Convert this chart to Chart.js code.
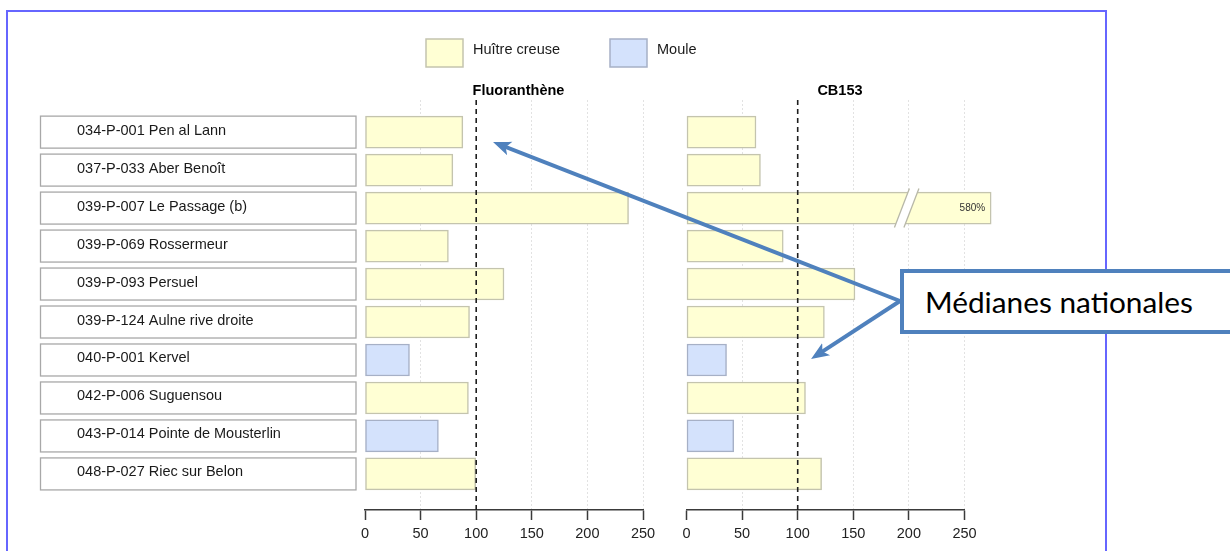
<!DOCTYPE html>
<html lang="fr">
<head>
<meta charset="utf-8">
<script src="https://cdn.jsdelivr.net/npm/chart.js"></script>
<style>
  html, body { margin: 0; padding: 0; background: #fff; }
  #wrap { position: relative; width: 1230px; height: 551px; overflow: hidden; }
  #frame { position: absolute; left: 6px; top: 10px; width: 1101px; height: 620px; border: 2px solid #6666ff; box-sizing: border-box; }
  canvas { position: absolute; left: 0; top: 0; }
  #notes { position: absolute; left: 0; top: 0; }
  #callout { position: absolute; left: 900px; top: 269px; width: 380px; height: 65px; box-sizing: border-box;
             border: 4px solid #4f81bd; background: #fff; padding-left: 21px; line-height: 57px;
             font-family: Lato, "Open Sans", sans-serif; font-size: 28px; color: #000; white-space: nowrap; }
</style>
</head>
<body>
<div id="wrap">
  <div id="frame"></div>
  <canvas id="fluo" width="1230" height="551"></canvas>
  <canvas id="pcb" width="1230" height="551"></canvas>
  <svg id="notes" width="1230" height="551">
    <defs>
      <marker id="head" viewBox="0 0 10 10" refX="5.6" refY="5" markerWidth="4.5" markerHeight="4.5" orient="auto" markerUnits="strokeWidth">
        <path d="M0,1 L10,5 L0,9 L2.5,5 z" fill="#4f81bd"/>
      </marker>
    </defs>
    <line x1="900" y1="301" x2="500.4" y2="144.9" stroke="#4f81bd" stroke-width="4" marker-end="url(#head)"/>
    <line x1="900" y1="301" x2="817.7" y2="354.6" stroke="#4f81bd" stroke-width="4" marker-end="url(#head)"/>
  </svg>
  <div id="callout"><span>Médianes nationales</span></div>
</div>

<script>
// sites (top to bottom) and the species sampled at each one
const sites = [
    '034-P-001 Pen al Lann',
    '037-P-033 Aber Benoît',
    '039-P-007 Le Passage (b)',
    '039-P-069 Rossermeur',
    '039-P-093 Persuel',
    '039-P-124 Aulne rive droite',
    '040-P-001 Kervel',
    '042-P-006 Suguensou',
    '043-P-014 Pointe de Mousterlin',
    '048-P-027 Riec sur Belon'
]
const species = ['Huître creuse', 'Huître creuse', 'Huître creuse', 'Huître creuse', 'Huître creuse',
                 'Huître creuse', 'Moule', 'Huître creuse', 'Moule', 'Huître creuse']
const speciesNames = ['Huître creuse', 'Moule']

// % of the national median
const fluoranthene = [88, 79, 237, 75, 125, 94, 40, 93, 66, 99.5]
const cb153 = [62.5, 66.5, 580, 87, 151.5, 124, 36, 107, 42.5, 121.5]

const xTicks = [0, 50, 100, 150, 200, 250]
const mediane = 100

const fills = { 'Huître creuse': '#ffffd4', 'Moule': '#d4e2fc' }
const edges = { 'Huître creuse': '#c4c4ae', 'Moule': '#a6b0c6' }
const FONT = '"Liberation Sans", Arial, sans-serif'
const barCap = 274    // longer bars are cut off here
const breakAt = 198   // where the cut mark sits

const panelDecor = {
    id: 'panelDecor',
    afterDraw(chart, args, opts) {
        const ctx = chart.ctx
        const area = chart.chartArea
        const xs = chart.scales.x
        const ys = chart.scales.y
        ctx.save()

        // national median
        const xm = xs.getPixelForValue(mediane)
        ctx.strokeStyle = '#1e1e1e'
        ctx.lineWidth = 1.6
        ctx.setLineDash([5, 4])
        ctx.beginPath()
        ctx.moveTo(xm, area.top)
        ctx.lineTo(xm, area.bottom)
        ctx.stroke()
        ctx.setLineDash([])

        // panel title
        ctx.fillStyle = '#000'
        ctx.font = 'bold 14.5px ' + FONT
        ctx.textAlign = 'center'
        ctx.textBaseline = 'middle'
        ctx.fillText(opts.title, xs.getPixelForValue(138), 91)

        // cut bars
        const meta = chart.getDatasetMeta(0)
        opts.values.forEach(function(v, i) {
            if (v <= barCap) return
            const bar = meta.data[i]
            const cx = xs.getPixelForValue(breakAt)
            const top = bar.y - bar.height / 2 - 3.5
            const bot = bar.y + bar.height / 2 + 3.5
            ctx.fillStyle = '#fff'
            ctx.beginPath()
            ctx.moveTo(cx - 12.25, bot)
            ctx.lineTo(cx + 2.75, top)
            ctx.lineTo(cx + 12.25, top)
            ctx.lineTo(cx - 2.75, bot)
            ctx.closePath()
            ctx.fill()
            ctx.strokeStyle = '#b8b8a8'
            ctx.lineWidth = 1.3
            ctx.beginPath()
            ctx.moveTo(cx - 12.25, bot)
            ctx.lineTo(cx + 2.75, top)
            ctx.moveTo(cx - 2.75, bot)
            ctx.lineTo(cx + 12.25, top)
            ctx.stroke()
            ctx.fillStyle = '#333'
            ctx.font = '10px ' + FONT
            ctx.textAlign = 'right'
            ctx.fillText(v + '%', bar.x - 6, bar.y)
        })

        if (opts.siteBoxes) {
            ctx.font = '14.5px ' + FONT
            ctx.textAlign = 'left'
            sites.forEach(function(s, i) {
                const y = ys.getPixelForValue(i)
                ctx.strokeStyle = '#a8a8a8'
                ctx.lineWidth = 1.3
                ctx.strokeRect(40.5, y - 16, 315.5, 32)
                ctx.fillStyle = '#1a1a1a'
                ctx.fillText(s, 77, y - 1.5)
            })
        }

        if (opts.legend) {
            const legendX = [426, 610]
            ctx.font = '14.5px ' + FONT
            ctx.textAlign = 'left'
            speciesNames.forEach(function(name, k) {
                ctx.fillStyle = fills[name]
                ctx.fillRect(legendX[k], 39, 37, 28)
                ctx.strokeStyle = edges[name]
                ctx.lineWidth = 1.5
                ctx.strokeRect(legendX[k], 39, 37, 28)
                ctx.fillStyle = '#1a1a1a'
                ctx.fillText(name, legendX[k] + 47, 50)
            })
        }
        ctx.restore()
    }
}

function barPanel(canvasId, title, values, left, extra) {
    const ctx = document.getElementById(canvasId)
    return new Chart(ctx, {
        type: 'bar',
        data: {
            labels: sites,
            datasets: [{
                label: title,
                data: values.map(function(v, i) { return { x: Math.min(v, barCap), y: i } }),
                backgroundColor: species.map(function(s) { return fills[s] }),
                borderColor: species.map(function(s) { return edges[s] }),
                borderWidth: 1.5,
                borderSkipped: false,
                barThickness: 32,
                clip: false
            }]
        },
        options: {
            indexAxis: 'y',
            responsive: false,
            animation: false,
            devicePixelRatio: 1,
            layout: { padding: { left: left, right: 1230 - left - 278, top: 100, bottom: 3.6 } },
            scales: {
                x: {
                    type: 'linear',
                    min: 0,
                    max: 250,
                    z: 1,
                    afterBuildTicks: function(scale) {
                        scale.ticks = xTicks.map(function(v) { return { value: v } })
                    },
                    ticks: {
                        font: { family: FONT, size: 14.5 },
                        color: '#222',
                        padding: 5,
                        maxRotation: 0,
                        autoSkip: false
                    },
                    grid: {
                        color: function(c) {
                            return (c.tick && (c.tick.value === 0 || c.tick.value === mediane)) ? 'rgba(0,0,0,0)' : '#e2e2e2'
                        },
                        lineWidth: 1,
                        tickLength: 10,
                        tickColor: '#3a3a3a',
                        tickWidth: 1.5,
                        tickBorderDash: []
                    },
                    border: { color: '#3a3a3a', width: 1.5, dash: [2, 2] }
                },
                y: {
                    type: 'linear',
                    reverse: true,
                    offset: false,
                    min: -0.846,
                    max: 9.95,
                    display: false
                }
            },
            plugins: {
                legend: { display: false },
                tooltip: { enabled: false },
                panelDecor: Object.assign({ title: title, values: values }, extra)
            }
        },
        plugins: [panelDecor]
    })
}

barPanel('fluo', 'Fluoranthène', fluoranthene, 365, { siteBoxes: true, legend: true })
barPanel('pcb', 'CB153', cb153, 686.5, {})

// fit the call-out text to its box
const note = document.querySelector('#callout span')
const w = note.getBoundingClientRect().width
note.style.fontSize = (28 * 268 / w).toFixed(2) + 'px'
</script>
</body>
</html>
